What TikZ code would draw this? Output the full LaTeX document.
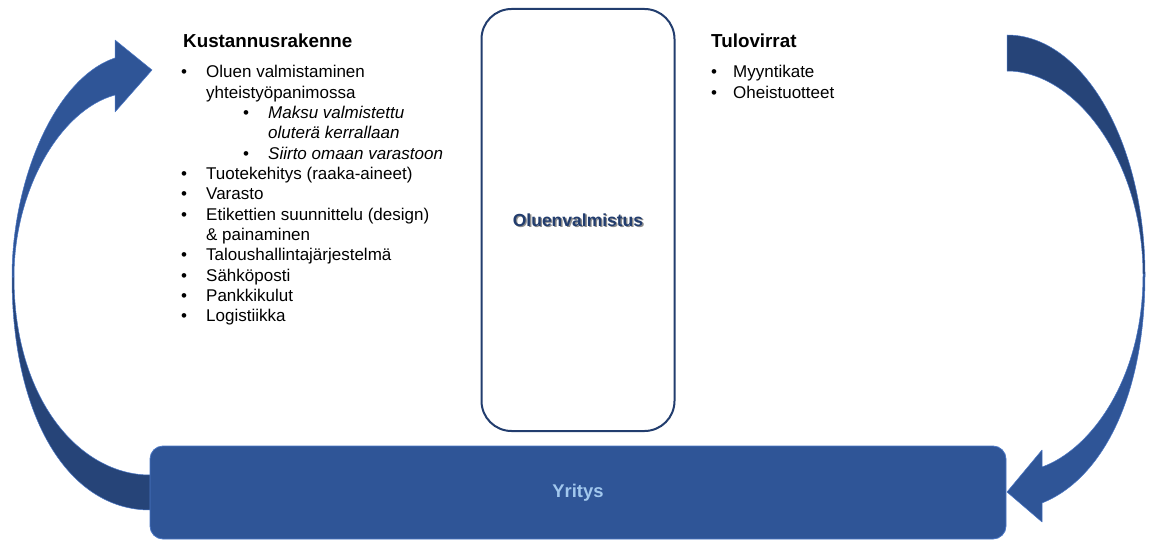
\documentclass[tikz,border=0pt]{standalone}
\usepackage{fontspec}
\setmainfont{Liberation Sans}
\definecolor{arrowlight}{HTML}{2F5597}
\definecolor{arrowdark}{HTML}{264478}
\definecolor{edgeblue}{HTML}{4A76C4}
\definecolor{navy}{HTML}{223D6E}
\definecolor{labelblue}{HTML}{A2C8EE}
\definecolor{shadowgrey}{HTML}{8C8C8C}

\tikzset{
  heading/.style={anchor=base west, inner sep=0pt, font=\fontsize{18.8}{22}\selectfont\bfseries},
  item/.style={anchor=base west, inner sep=0pt, font=\fontsize{17}{20}\selectfont},
  subitem/.style={item, font=\fontsize{17}{20}\selectfont\itshape},
  bullet/.style={anchor=base, inner sep=0pt, font=\fontsize{17}{20}\selectfont},
  flowlight/.style={fill=arrowlight, draw=edgeblue, line width=0.5pt, line join=round},
  flowdark/.style={fill=arrowdark, draw=edgeblue, line width=0.5pt, line join=round},
  brewbox/.style={draw=navy, line width=2pt, fill=white, rounded corners=30pt,
    minimum width=193pt, minimum height=422pt, inner sep=0pt},
  brewtext/.style={inner sep=0pt, font=\fontsize{17.5}{20}\selectfont\bfseries},
  firmbox/.style={fill=arrowlight, draw=edgeblue, line width=0.8pt, rounded corners=13pt,
    minimum width=856pt, minimum height=93pt, inner sep=0pt,
    text=labelblue, font=\fontsize{18.4}{20}\selectfont\bfseries}
}

\begin{document}
\begin{tikzpicture}[x=1pt,y=-1pt]
\useasboundingbox (0,0) rectangle (1149,540);

% left curved arrow: lower (back) band, then upper band with head
\fill[flowdark] (12,277) .. controls (12,420) and (70,510) .. (150,510) -- (175,510)
  -- (175,475) -- (150,475) .. controls (80,475) and (14,400) .. (14,277) -- cycle;
\fill[flowlight] (12,277) .. controls (12,180) and (55,78) .. (115,58) -- (115,40)
  -- (152,70) -- (115,112) -- (115,95) .. controls (60,110) and (14,190) .. (14,277) -- cycle;

% right curved arrow: upper (back) band from the tail, lower band with head
\fill[flowdark] (1007,35) .. controls (1083,35) and (1145,142) .. (1145,275)
  -- (1143,275) .. controls (1143,160) and (1075,71) .. (1007,71) -- cycle;
\fill[flowlight] (1145,275) .. controls (1145,400) and (1100,480) .. (1042,503)
  -- (1042,522) -- (1007,492) -- (1042,450) -- (1042,467)
  .. controls (1090,450) and (1143,380) .. (1143,275) -- cycle;

% company bar
\node[firmbox] (firm) at (578,492.5) {Yritys};

% brewing box with shadowed label
\node[brewbox] (brew) at (578,220) {};
\node[brewtext, text=shadowgrey] (brewshadow) at ([shift={(1.4,1.4)}]brew.center) {Oluenvalmistus};
\node[brewtext, text=navy] (brewlabel) at (brew.center) {Oluenvalmistus};

% cost structure
\node[heading] (costhead) at (183,48) {Kustannusrakenne};
\node[bullet] (cb1) at (184,78) {•};
\node[item] (c1a) at (206,78) {Oluen valmistaminen};
\node[item] (c1b) at (206,98.3) {yhteistyöpanimossa};
\node[bullet] (cs1) at (246,118.6) {•};
\node[subitem] (s1a) at (268,118.6) {Maksu valmistettu};
\node[subitem] (s1b) at (268,138.9) {oluterä kerrallaan};
\node[bullet] (cs2) at (246,159.2) {•};
\node[subitem] (s2) at (268,159.2) {Siirto omaan varastoon};
\node[bullet] (cb2) at (184,179.5) {•};
\node[item] (c2) at (206,179.5) {Tuotekehitys (raaka-aineet)};
\node[bullet] (cb3) at (184,199.8) {•};
\node[item] (c3) at (206,199.8) {Varasto};
\node[bullet] (cb4) at (184,220.1) {•};
\node[item] (c4a) at (206,220.1) {Etikettien suunnittelu (design)};
\node[item] (c4b) at (206,240.4) {\& painaminen};
\node[bullet] (cb5) at (184,260.7) {•};
\node[item] (c5) at (206,260.7) {Taloushallintajärjestelmä};
\node[bullet] (cb6) at (184,281) {•};
\node[item] (c6) at (206,281) {Sähköposti};
\node[bullet] (cb7) at (184,301.3) {•};
\node[item] (c7) at (206,301.3) {Pankkikulut};
\node[bullet] (cb8) at (184,321.6) {•};
\node[item] (c8) at (206,321.6) {Logistiikka};

% revenue streams
\node[heading] (revhead) at (711,48) {Tulovirrat};
\node[bullet] (rb1) at (714,78) {•};
\node[item] (r1) at (733,78) {Myyntikate};
\node[bullet] (rb2) at (714,98.3) {•};
\node[item] (r2) at (733,98.3) {Oheistuotteet};
\end{tikzpicture}
\end{document}
